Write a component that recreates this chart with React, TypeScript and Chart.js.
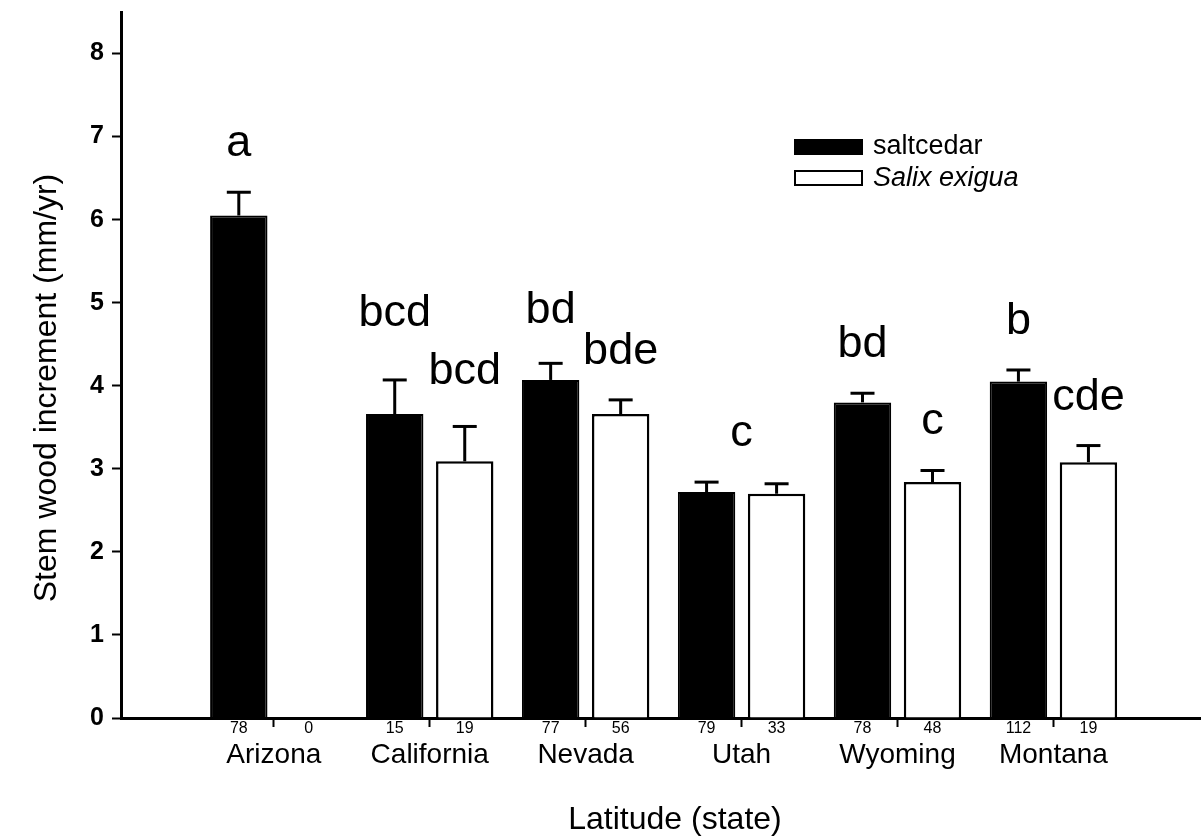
import React, { useEffect, useRef } from 'react';
import { Chart, registerables } from 'chart.js';

Chart.register(...registerables);

// Sites ordered by latitude, south to north
const states = ['Arizona', 'California', 'Nevada', 'Utah', 'Wyoming', 'Montana'];

// Mean stem wood increment (mm/yr) and standard errors
const saltcedarMean = [6.05, 3.66, 4.07, 2.72, 3.8, 4.05];
const saltcedarSE = [0.28, 0.41, 0.2, 0.12, 0.11, 0.14];
const salixMean: (number | null)[] = [null, 3.09, 3.66, 2.7, 2.84, 3.08];
const salixSE = [0, 0.42, 0.17, 0.12, 0.14, 0.2];

// Sample sizes printed under each bar
const saltcedarN = [78, 15, 77, 79, 78, 112];
const salixN = [0, 19, 56, 33, 48, 19];

// Significance groupings
const saltcedarLetters = ['a', 'bcd', 'bd', '', 'bd', 'b'];
const salixLetters = ['', 'bcd', 'bde', '', 'c', 'cde'];
const sharedLetters = ['', '', '', 'c', '', ''];

const yTickValues = [0, 1, 2, 3, 4, 5, 6, 7, 8];

const FONT = '"Liberation Sans", Arial, Helvetica, sans-serif';

// extra lift (px) for a few crowded letter labels
const saltLift = [0, 18, 4, 0, 0, 0];
const salixLift = [0, 6, 0, 0, 0, 0];

const annotate = {
  id: 'annotate',
  afterDatasetsDraw(chart: any) {
    const ctx = chart.ctx;
    const y = chart.scales.y;
    const area = chart.chartArea;
    const metaS = chart.getDatasetMeta(0);
    const metaW = chart.getDatasetMeta(1);
    const means = [saltcedarMean, salixMean];
    const ses = [saltcedarSE, salixSE];
    const letters = [saltcedarLetters, salixLetters];
    const lifts = [saltLift, salixLift];
    const ns = [saltcedarN, salixN];
    const metas = [metaS, metaW];
    const pairOffset = metaW.data[1].x - metaS.data[1].x;

    const barX = (d: number, i: number) => {
      const el = metas[d].data[i];
      if (el && isFinite(el.x)) return el.x;
      return metaS.data[i].x + (d === 1 ? pairOffset : 0);
    };

    ctx.save();
    ctx.strokeStyle = '#000';
    ctx.fillStyle = '#000';
    ctx.lineCap = 'butt';

    // error bars (upper only)
    for (let d = 0; d < 2; d++) {
      for (let i = 0; i < states.length; i++) {
        const m = means[d][i];
        if (m === null || m === undefined) continue;
        const x = barX(d, i);
        const yb = y.getPixelForValue(m);
        const yt = y.getPixelForValue(m + ses[d][i]);
        ctx.lineWidth = 3;
        ctx.beginPath();
        ctx.moveTo(x, yb);
        ctx.lineTo(x, yt);
        ctx.stroke();
        ctx.beginPath();
        ctx.moveTo(x - 12, yt);
        ctx.lineTo(x + 12, yt);
        ctx.stroke();
      }
    }

    // significance letters
    ctx.font = `45px ${FONT}`;
    ctx.textAlign = 'center';
    ctx.textBaseline = 'alphabetic';
    for (let d = 0; d < 2; d++) {
      for (let i = 0; i < states.length; i++) {
        const t = letters[d][i];
        const m = means[d][i];
        if (!t || m === null) continue;
        const x = barX(d, i);
        const yt = y.getPixelForValue(m + ses[d][i]);
        ctx.fillText(t, x, yt - 36 - lifts[d][i]);
      }
    }
    for (let i = 0; i < states.length; i++) {
      const t = sharedLetters[i];
      if (!t) continue;
      const x = (barX(0, i) + barX(1, i)) / 2;
      const top = Math.max(
        saltcedarMean[i] + saltcedarSE[i],
        (salixMean[i] ?? 0) + salixSE[i]
      );
      ctx.fillText(t, x, y.getPixelForValue(top) - 36);
    }

    // sample sizes under the axis
    ctx.font = `16px ${FONT}`;
    ctx.textBaseline = 'top';
    for (let d = 0; d < 2; d++) {
      for (let i = 0; i < states.length; i++) {
        ctx.fillText(String(ns[d][i]), barX(d, i), area.bottom + 3);
      }
    }

    // axis titles
    ctx.font = `32px ${FONT}`;
    ctx.textBaseline = 'middle';
    ctx.fillText('Latitude (state)', 675, 820);
    ctx.save();
    ctx.translate(47, 388);
    ctx.rotate(-Math.PI / 2);
    ctx.fillText('Stem wood increment (mm/yr)', 0, 0);
    ctx.restore();

    // legend
    const items = chart.data.datasets;
    const rows = [147, 178];
    ctx.textAlign = 'left';
    items.forEach((ds: any, k: number) => {
      const cy = rows[k];
      ctx.fillStyle = ds.backgroundColor;
      ctx.fillRect(795, cy - 7, 67, 14);
      ctx.lineWidth = 2;
      ctx.strokeStyle = '#000';
      ctx.strokeRect(795, cy - 7, 67, 14);
      ctx.fillStyle = '#000';
      ctx.font = `${k === 1 ? 'italic ' : ''}27px ${FONT}`;
      ctx.fillText(ds.label, 873, cy);
    });
    ctx.restore();
  },
};

export default function App() {
  const canvasRef = useRef<HTMLCanvasElement | null>(null);

  useEffect(() => {
    document.body.style.margin = '0';
    const canvas = canvasRef.current;
    if (!canvas) return;
    const chart = new Chart(canvas, {
      type: 'bar',
      data: {
        datasets: [
          {
            label: 'saltcedar',
            data: saltcedarMean.map((v, i) => ({ x: i + 1, y: v })),
            backgroundColor: '#000',
            borderColor: '#000',
            borderWidth: 2,
          },
          {
            label: 'Salix exigua',
            data: salixMean.map((v, i) => ({ x: i + 1, y: v })),
            backgroundColor: '#fff',
            borderColor: '#000',
            borderWidth: 2.5,
          },
        ],
      },
      options: {
        animation: false,
        responsive: false,
        layout: { padding: { top: 12, right: 2, left: 0, bottom: 0 } },
        plugins: {
          legend: { display: false },
          tooltip: { enabled: false },
        },
        datasets: {
          bar: { categoryPercentage: 0.898, barPercentage: 0.82 },
        },
        scales: {
          x: {
            type: 'linear',
            offset: false,
            min: 0.02,
            max: 6.94,
            afterBuildTicks: (s: any) => {
              s.ticks = states.map((_, i) => ({ value: i + 1 }));
            },
            afterFit: (s: any) => {
              s.height = 120;
              s.paddingLeft = 0;
              s.paddingRight = 0;
            },
            ticks: {
              autoSkip: false,
              maxRotation: 0,
              color: '#000',
              padding: 11,
              font: { family: FONT, size: 28 },
              callback: (v: any) => states[Math.round(v) - 1] ?? '',
            },
            grid: {
              offset: false,
              drawOnChartArea: false,
              tickLength: 9,
              tickWidth: 2,
              tickColor: '#000',
            },
            border: { color: '#000', width: 3 },
          },
          y: {
            min: 0,
            max: 8.5,
            afterBuildTicks: (s: any) => {
              s.ticks = yTickValues.map((v) => ({ value: v }));
            },
            afterFit: (s: any) => {
              s.width = 121;
              s.paddingTop = 0;
              s.paddingBottom = 0;
            },
            ticks: {
              color: '#000',
              padding: 8,
              font: { family: FONT, size: 25, weight: 'bold' },
            },
            grid: {
              drawOnChartArea: false,
              tickLength: 9,
              tickWidth: 2,
              tickColor: '#000',
            },
            border: { color: '#000', width: 3 },
          },
        },
      },
      plugins: [annotate],
    } as any);
    return () => chart.destroy();
  }, []);

  return (
    <div style={{ width: 1202, height: 838, background: '#fff' }}>
      <canvas ref={canvasRef} width={1202} height={838} />
    </div>
  );
}
